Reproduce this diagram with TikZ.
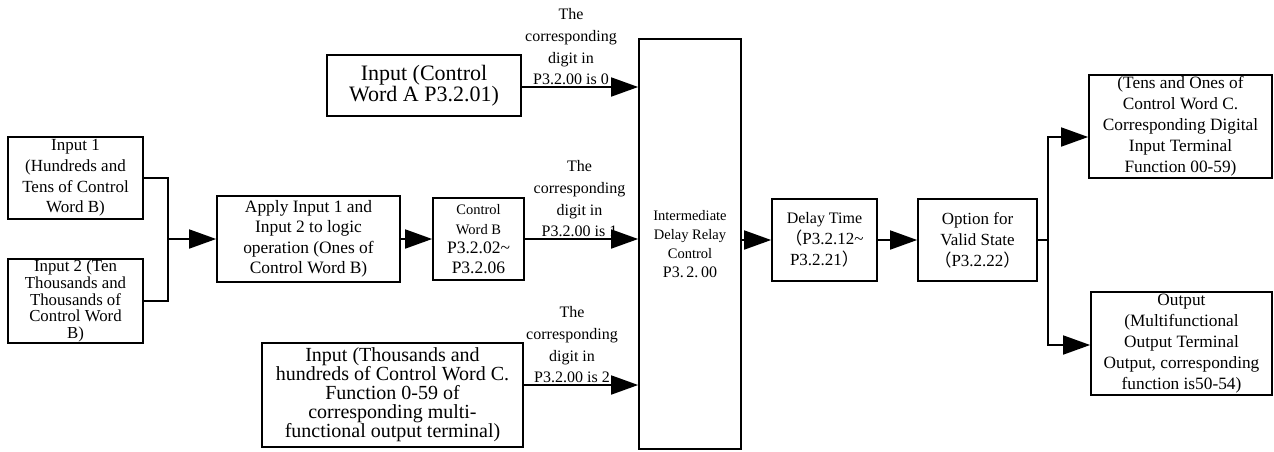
\documentclass[tikz,border=0pt]{standalone}
\usepackage{fontspec}
\setmainfont{Liberation Serif}
\newfontfamily\cjk{Noto Sans CJK SC}
\newcommand{\fwl}{{\cjk （}}
\newcommand{\fwr}{{\cjk ）}}
\newcommand{\fsz}[2]{\fontsize{#1}{#2}\selectfont}
\usetikzlibrary{arrows.meta, positioning}

\tikzset{
    blk/.style={draw, line width=1.7pt, align=center, inner sep=1pt},
    arr/.style={-{Triangle[length=27pt, width=19pt]}, line width=1.7pt},
    cond/.style={above, align=center, inner sep=1pt, font=\fsz{16}{21.7}},
}

\begin{document}
\begin{tikzpicture}[x=1pt, y=-1pt]
        \useasboundingbox (0,0) rectangle (1274,451);

        % inputs for control word B
        \node[blk, minimum width=135pt, minimum height=82pt, font=\fsz{17}{20.7}] (in_1) at (75.5,178)
            {Input 1\\(Hundreds and\\Tens of Control\\Word B)};
        \node[blk, minimum width=135pt, minimum height=82pt, font=\fsz{16.8}{16.8}] (in_2) at (75.5,301)
            {Input 2 (Ten\\Thousands and\\Thousands of\\Control Word\\B)};
        \node[blk, minimum width=183pt, minimum height=86pt, font=\fsz{17.4}{20.5}] (apply) at (308.5,239)
            {Apply Input 1 and\\Input 2 to logic\\operation (Ones of\\Control Word B)};
        \node[blk, minimum width=91pt, minimum height=82pt, font=\fsz{14.5}{19.5}] (cw_b) at (478.5,239)
            {Control\\Word B\\\fsz{17.5}{20}P3.2.02\textasciitilde\\\fsz{17.5}{20}P3.2.06};

        % other two inputs
        \node[blk, minimum width=194pt, minimum height=61pt, font=\fsz{22}{21.5}] (in_a) at (424,85.5)
            {Input (Control\\Word A P3.2.01)};
        \node[blk, minimum width=261pt, minimum height=104pt, font=\fsz{20}{19}] (in_c) at (392.5,395)
            {Input (Thousands and\\hundreds of Control Word C.\\Function 0-59 of\\corresponding multi-\\functional output terminal)};

        % relay and the chain after it
        \node[blk, minimum width=102pt, minimum height=410pt, font=\fsz{14.5}{19}] (relay) at (690,244)
            {Intermediate\\Delay Relay\\Control\\\fsz{16}{20}P3.\,2.\,00};
        \node[blk, minimum width=105pt, minimum height=82pt, font=\fsz{16}{21}] (delay) at (824.5,240)
            {Delay Time\\\fsz{17}{21}\fwl P3.2.12\textasciitilde\\\fsz{17}{21}P3.2.21\fwr};
        \node[blk, minimum width=119pt, minimum height=82pt, font=\fsz{17}{21}] (option) at (977.5,240)
            {Option for\\Valid State\\\fwl P3.2.22\fwr};

        % outputs
        \node[blk, minimum width=183pt, minimum height=103pt, font=\fsz{17.3}{21}] (out_1) at (1180.5,126.5)
            {(Tens and Ones of\\Control Word C.\\Corresponding Digital\\Input Terminal\\Function 00-59)};
        \node[blk, minimum width=181pt, minimum height=103pt, font=\fsz{17.3}{21}] (out_2) at (1181.5,343.5)
            {Output\\(Multifunctional\\Output Terminal\\Output, corresponding\\function is50-54)};

        \coordinate (join) at (168,239);
        \coordinate (split) at (1048,240);

        \draw[line width=1.7pt] (in_1.east) -| (join) |- (in_2.east);
        \draw[arr] (join) -- (apply.west);
        \draw[arr] (apply) -- (cw_b);
        \draw[arr] (cw_b.east) -- (cw_b.east -| relay.west)
            node[cond, midway, xshift=-2pt] {The\\corresponding\\digit in\\P3.2.00 is 1};
        \draw[arr] ([yshift=-1.5pt]in_a.east) -- ([yshift=-1.5pt]in_a.east -| relay.west)
            node[cond, midway, xshift=-9pt] {The\\corresponding\\digit in\\P3.2.00 is 0};
        \draw[arr] ([yshift=10pt]in_c.east) -- ([yshift=10pt]in_c.east -| relay.west)
            node[cond, midway, xshift=-9pt] {The\\corresponding\\digit in\\P3.2.00 is 2};
        \draw[arr] (relay.east |- delay) -- (delay.west);
        \draw[arr] (delay) -- (option);
        \draw[line width=1.7pt] (option.east) -- (split);
        \draw[arr] (split) |- ([yshift=-10.5pt]out_1.west);
        \draw[arr] (split) |- ([yshift=-1.5pt]out_2.west);
    \end{tikzpicture}
\end{document}
